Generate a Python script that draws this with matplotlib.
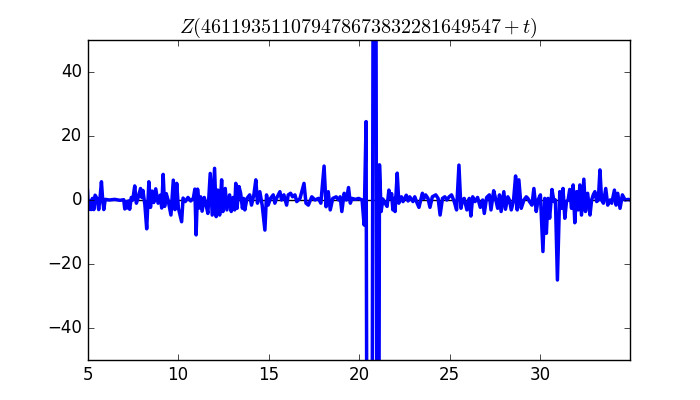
import matplotlib
matplotlib.use("Agg")
import matplotlib.pyplot as plt

plt.style.use("classic")

# values
t = [5.00, 5.05, 5.12, 5.20, 5.27, 5.35, 5.42, 5.52, 5.62, 5.69, 5.77, 5.84, 5.90, 5.98,
     6.20, 6.50, 6.80, 7.00, 7.06, 7.13, 7.20, 7.26, 7.33, 7.42, 7.50, 7.61, 7.70, 7.80,
     7.93, 8.00, 8.06, 8.17, 8.27, 8.39, 8.48, 8.57, 8.66, 8.77, 8.90, 9.02, 9.10, 9.18,
     9.26, 9.35, 9.45, 9.61, 9.74, 9.83, 9.93, 10.02, 10.20, 10.28, 10.40, 10.55, 10.70,
     10.85, 10.93, 11.00, 11.08, 11.18, 11.25, 11.33, 11.45, 11.55, 11.65, 11.78, 11.89,
     12.02, 12.11, 12.20, 12.30, 12.41, 12.48, 12.61, 12.70, 12.85, 12.94, 13.04, 13.13,
     13.19, 13.26, 13.37, 13.46, 13.56, 13.62, 13.69, 13.81, 13.96, 14.06, 14.19, 14.30,
     14.39, 14.52, 14.65, 14.80, 14.89, 14.98, 15.11, 15.26, 15.35, 15.44, 15.63, 15.72,
     15.85, 16.00, 16.09, 16.22, 16.33, 16.46, 16.56, 16.74, 16.96, 17.07, 17.20, 17.39,
     17.57, 17.76, 17.89, 18.07, 18.18, 18.30, 18.41, 18.55, 18.74, 18.87, 18.96, 19.05,
     19.18, 19.30, 19.42, 19.52, 19.61, 19.80, 19.98, 20.17, 20.28, 20.39, 20.46, 20.58,
     20.70, 20.86, 21.04, 21.13, 21.22, 21.32, 21.44, 21.55, 21.65, 21.74, 21.80, 21.87,
     21.93, 21.99, 22.11, 22.20, 22.34, 22.43, 22.61, 22.71, 22.80, 22.98, 23.08, 23.21,
     23.31, 23.50, 23.59, 23.68, 23.81, 23.92, 24.05, 24.24, 24.37, 24.48, 24.61, 24.74,
     24.85, 24.98, 25.11, 25.26, 25.39, 25.52, 25.63, 25.72, 25.81, 25.96, 26.09, 26.18,
     26.28, 26.41, 26.55, 26.70, 26.83, 26.92, 27.05, 27.20, 27.29, 27.44, 27.52, 27.66,
     27.76, 27.85, 28.00, 28.09, 28.22, 28.31, 28.41, 28.53, 28.65, 28.74, 28.83, 28.96,
     29.11, 29.24, 29.33, 29.42, 29.55, 29.66, 29.79, 29.89, 30.02, 30.16, 30.26, 30.35,
     30.44, 30.53, 30.66, 30.77, 30.85, 30.96, 31.09, 31.18, 31.27, 31.37, 31.46, 31.55,
     31.64, 31.74, 31.83, 31.92, 32.02, 32.11, 32.20, 32.29, 32.42, 32.51, 32.63, 32.76,
     32.85, 32.94, 33.03, 33.13, 33.22, 33.31, 33.40, 33.50, 33.63, 33.74, 33.87, 33.96,
     34.11, 34.20, 34.29, 34.42, 34.55, 34.70, 34.89, 34.97]
z = [3.0, -3.0, -0.3, -3.0, 0.5, -3.0, 1.5, 0.5, -3.0, 0.5, 5.7, 0.0, -3.0, 0.2,
     0.0, 0.2, -0.1, 0.1, -2.8, -0.5, -2.5, -0.3, -2.9, 0.8, 0.0, 4.4, -1.0, 0.8,
     3.6, 0.8, 3.0, -1.5, -9.0, 5.7, -2.3, 2.8, -0.8, 3.5, -1.0, 1.5, -2.5, 8.0,
     -2.0, 2.0, 0.0, -4.7, 6.2, -3.0, 5.2, -2.5, -6.8, 0.6, -0.5, 0.8, -0.3,
     0.6, 3.4, -10.9, 3.4, -2.5, 1.0, -3.5, 0.8, -1.5, -4.2, 8.3, -4.7,
     9.9, -5.2, 3.1, -4.7, 6.3, -3.6, 3.6, -3.1, 1.6, -3.6, 0.8, -3.1,
     5.2, -2.6, 4.2, 2.1, -2.6, 0.5, -3.1, 0.5, 1.6, -1.6, 1.6, 6.3,
     -1.0, 2.6, -1.6, -9.4, 1.6, -1.6, 0.5, 1.6, -1.0, 0.5, 2.6, 0.0,
     1.6, -1.6, 1.6, 2.1, 1.0, 1.6, -0.5, 0.5, 5.2, -1.0, -1.6, 1.0,
     0.0, 0.5, -1.0, 10.6, -2.1, 2.6, -3.1, 0.5, 1.0, 0.0, 1.0, -3.6,
     2.1, 0.0, 3.9, -1.0, 0.5, 0.2, 0.5, 0.0, -7.8, 24.5, -150.0, -200.0,
     -150.0, 300.0, -250.0, 11.0, -3.6, 0.3, -1.0, -2.0, 3.1, 0.5, 2.0, -3.1,
     0.5, -3.6, 8.4, -1.0, 1.0, -0.5, 1.5, -0.3, 1.0, -0.5, 1.0, -1.0,
     -2.3, 2.1, 0.5, 1.6, 0.5, -2.3, 1.0, 1.6, 0.5, -4.7, 0.5, 1.0,
     0.0, 1.0, 1.6, -0.5, -3.1, 10.9, -2.6, 0.0, 0.5, -3.1, 0.5, -5.0,
     1.0, -0.5, 0.8, -2.3, 0.0, -4.2, 0.8, 1.6, -3.1, 2.9, 1.0, -2.6,
     1.6, -3.6, 2.6, -2.9, 1.0, 0.0, -3.1, -0.5, 7.5, -3.1, 6.3, -2.6,
     0.0, 1.0, 0.5, -0.5, -1.6, 3.6, -3.6, 0.0, 1.6, -16.1, 0.5, -10.4,
     0.5, -5.7, 3.3, -0.5, 0.0, -25.0, 2.6, -2.6, 3.6, -5.7, -0.5, 0.0,
     3.3, -2.6, 4.7, -7.1, 2.6, -3.1, 4.7, -4.7, 6.5, -3.6, 2.1, -4.7,
     0.0, 1.6, 2.6, -0.5, 0.0, 9.4, 0.0, -1.0, 3.6, -1.6, 0.0, -1.0,
     3.1, -1.6, 2.1, -2.6, 1.6, 0.0, 0.2, 0.0]

fig = plt.figure(figsize=(7, 4), dpi=100)
ax = fig.add_subplot(111)
ax.axhline(0, color="k", lw=1, zorder=1)
ax.plot(t, z, color="b", lw=2.5, zorder=2)
ax.set_xlim(5, 34.97)
ax.set_ylim(-50, 50)
ax.set_xticks([5, 10, 15, 20, 25, 30])
ax.set_yticks([-40, -20, 0, 20, 40])
ax.set_title(r"$Z(461193511079478673832281649547+t)$")

fig.savefig("out.png", dpi=100)
